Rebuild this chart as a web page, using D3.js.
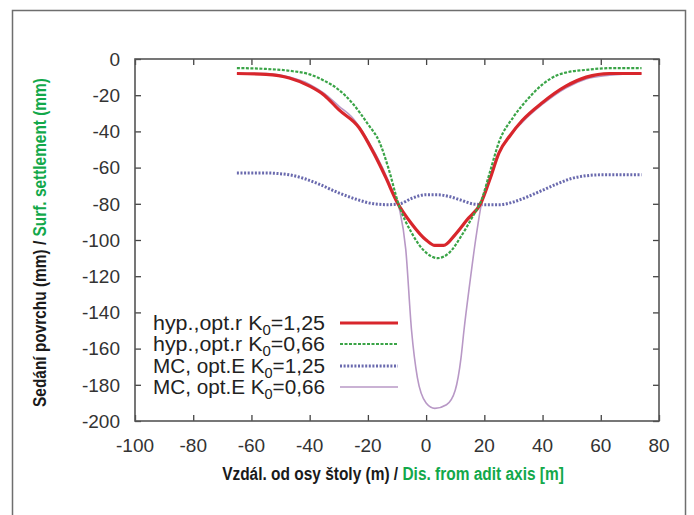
<!DOCTYPE html>
<html>
<head>
<meta charset="utf-8">
<script src="https://cdn.jsdelivr.net/npm/d3@7"></script>
<style>
    body { margin: 0; background: #fff; }
    svg { display: block; font-family: "Liberation Sans", Arial, sans-serif; }
</style>
</head>
<body>
<div id="chart"></div>
<script>

// ---- data ----
const xTicks = [-100, -80, -60, -40, -20, 0, 20, 40, 60, 80];
const yTicks = [0, -20, -40, -60, -80, -100, -120, -140, -160, -180, -200];

const hypK125X = [-65, -55, -47, -40, -35, -30, -23, -18, -14, -10, -5, 0, 3, 6, 10, 14, 19, 22, 25, 29, 33, 40, 48, 55, 63, 74];
const hypK125Y = [-8, -8.5, -10.5, -15, -20, -28, -38, -52, -65, -79, -91, -100, -103, -103, -97, -89, -79, -66, -52, -42, -34, -24, -15, -10, -8, -8];

const hypK066X = [-65, -55, -47, -40, -35, -30, -25, -20, -16, -13, -9.5, -5, 0, 4, 8, 12, 16, 19, 22, 25, 30, 35, 40, 45, 48, 55, 64, 74];
const hypK066Y = [-5, -5.5, -6.5, -8.5, -12, -17, -25, -36, -46, -60, -80, -96, -107, -110, -107, -98, -87, -78, -62, -46, -32, -22, -14, -9, -7.5, -6, -5, -5];

const mcK125X = [-65, -55, -47, -42, -37, -30, -24, -18, -13, -9, -5, 0, 4, 8, 12, 16, 20, 25, 30, 35, 40, 45, 50, 55, 60, 74];
const mcK125Y = [-63, -63, -64, -66, -69, -74, -77.5, -80, -80.5, -80, -77, -75, -75, -76, -78, -80, -80.5, -80.5, -79, -76, -72.5, -69, -66, -64.5, -64, -64];

const mcK066X = [-65, -55, -47, -40, -35, -30, -25, -20, -15, -11, -9, -7, -5, -3, 0, 3, 7, 10, 12, 13, 15, 17, 19, 22, 25, 29, 33, 40, 48, 55, 63, 74];
const mcK066Y = [-8, -8, -10, -14, -19, -26, -33, -45, -60, -75, -84, -105, -150, -176, -190, -193, -191, -183, -165, -150, -124, -100, -80, -65, -52, -42, -35, -25, -16, -11, -9, -8];

const seriesNames = ["hyp.,opt.r K|=1,25", "hyp.,opt.r K|=0,66", "MC, opt.E K|=1,25", "MC, opt.E K|=0,66"];
const xTitle = ["Vzdál. od osy štoly (m) / ", "Dis. from adit axis [m]"];
const yTitle = ["Sedání povrchu (mm) / ", "Surf. settlement (mm)"];

// ---- styles ----
const seriesStyle = [
    { colour: "#d8262c", width: 3.2, dash: null },
    { colour: "#3aa447", width: 2.2, dash: "3,1.5" },
    { colour: "#6a6aae", width: 3, dash: "2,1.6" },
    { colour: "#b898c6", width: 1.6, dash: null }
];
const series = [
    { x: hypK125X, y: hypK125Y },
    { x: hypK066X, y: hypK066Y },
    { x: mcK125X, y: mcK125Y },
    { x: mcK066X, y: mcK066Y }
];

const svgWidth = 694, svgHeight = 515;
const margin = { top: 59, right: 35, bottom: 94, left: 135 };
const width = svgWidth - margin.left - margin.right;
const height = svgHeight - margin.top - margin.bottom;

const svg = d3.select("#chart").append("svg")
    .attr("width", svgWidth)
    .attr("height", svgHeight);

// outer border of the figure
svg.append("rect")
    .attr("x", 12.5).attr("y", 10.5)
    .attr("width", 673).attr("height", 530)
    .attr("fill", "none")
    .attr("stroke", "#6e6e6e")
    .attr("stroke-width", 1.5);

const plotArea = svg.append("g")
    .attr("transform", `translate(${margin.left},${margin.top})`);

const x = d3.scaleLinear().domain([-100, 80]).range([0, width]);
const y = d3.scaleLinear().domain([-200, 0]).range([height, 0]);

// ticks on all four sides, pointing inwards (gnuplot style)
const tickLen = 6;
const tickStyle = g => g.call(s => s.select(".domain").remove())
    .call(s => s.selectAll(".tick line").attr("stroke", "#444").attr("stroke-width", 1.3))
    .call(s => s.selectAll(".tick text").remove());

plotArea.append("g").attr("transform", `translate(0,${height})`)
    .call(d3.axisTop(x).tickValues(xTicks).tickSize(tickLen)).call(tickStyle);
plotArea.append("g")
    .call(d3.axisBottom(x).tickValues(xTicks).tickSize(tickLen)).call(tickStyle);
plotArea.append("g")
    .call(d3.axisRight(y).tickValues(yTicks).tickSize(tickLen)).call(tickStyle);
plotArea.append("g").attr("transform", `translate(${width},0)`)
    .call(d3.axisLeft(y).tickValues(yTicks).tickSize(tickLen)).call(tickStyle);

// tick labels
plotArea.selectAll(".x-label")
    .data(xTicks)
    .enter().append("text")
    .attr("class", "x-label")
    .attr("x", d => x(d))
    .attr("y", height + 31)
    .attr("text-anchor", "middle")
    .attr("font-size", 19)
    .attr("fill", "#333")
    .text(d => d);

plotArea.selectAll(".y-label")
    .data(yTicks)
    .enter().append("text")
    .attr("class", "y-label")
    .attr("x", -15)
    .attr("y", d => y(d))
    .attr("dy", "0.36em")
    .attr("text-anchor", "end")
    .attr("font-size", 19)
    .attr("fill", "#333")
    .text(d => d);

// frame
plotArea.append("rect")
    .attr("width", width).attr("height", height)
    .attr("fill", "none")
    .attr("stroke", "#555")
    .attr("stroke-width", 1.6);

// curves
const line = d3.line()
    .x(d => x(d[0]))
    .y(d => y(d[1]))
    .curve(d3.curveMonotoneX);

const drawOrder = [2, 3, 0, 1];
drawOrder.forEach(i => {
    const pts = series[i].x.map((v, k) => [v, series[i].y[k]]);
    plotArea.append("path")
        .datum(pts)
        .attr("d", line)
        .attr("fill", "none")
        .attr("stroke", seriesStyle[i].colour)
        .attr("stroke-width", seriesStyle[i].width)
        .attr("stroke-dasharray", seriesStyle[i].dash)
        .attr("stroke-linejoin", "round");
});

// legend
const legendRowY = [323, 344, 366, 387];
const legend = svg.append("g").attr("class", "legend");

seriesNames.forEach((name, i) => {
    const parts = name.split("|");
    const t = legend.append("text")
        .attr("x", 325)
        .attr("y", legendRowY[i])
        .attr("dy", "0.36em")
        .attr("text-anchor", "end")
        .attr("font-size", 20)
        .attr("fill", "#222")
        .attr("textLength", 172)
        .attr("lengthAdjust", "spacingAndGlyphs");
    t.append("tspan").text(parts[0]);
    t.append("tspan").attr("font-size", 14).attr("dy", 5).text("0");
    t.append("tspan").attr("dy", -5).text(parts[1]);

    legend.append("line")
        .attr("x1", 340).attr("x2", 398)
        .attr("y1", legendRowY[i]).attr("y2", legendRowY[i])
        .attr("stroke", seriesStyle[i].colour)
        .attr("stroke-width", seriesStyle[i].width)
        .attr("stroke-dasharray", seriesStyle[i].dash);
});

// axis titles: bold, horizontally squeezed to the reference width
function squeezedTitle(parts, cx, cy, rotate, targetLength) {
    const g = svg.append("g");
    const t = g.append("text")
        .attr("text-anchor", "middle")
        .attr("font-size", 18)
        .attr("font-weight", "bold");
    t.append("tspan").attr("fill", "#1a1a1a").text(parts[0]);
    t.append("tspan").attr("fill", "#12a84a").text(parts[1]);
    const len = t.node().getComputedTextLength();
    g.attr("transform", `translate(${cx},${cy}) rotate(${rotate}) scale(${targetLength / len},1)`);
}

squeezedTitle(xTitle, 393, 480, 0, 342);
squeezedTitle(yTitle, 46, 242.5, -90, 329);

</script>
</body>
</html>
